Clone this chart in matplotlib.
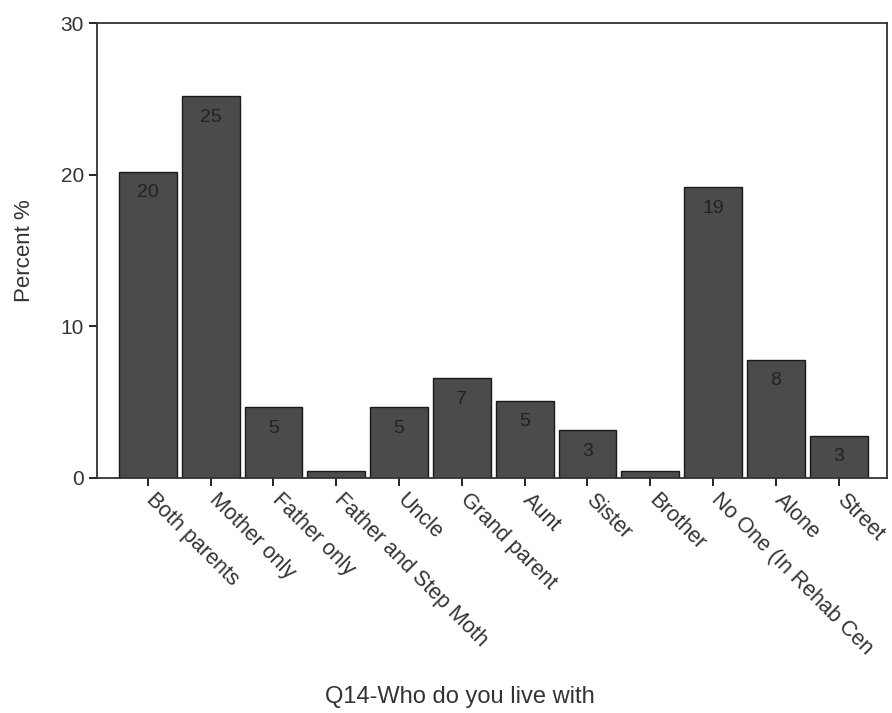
import numpy as np
import matplotlib
matplotlib.use("Agg")
import matplotlib.pyplot as plt
import matplotlib.transforms as mtransforms

# ==========================
# DATA
# ==========================

categories = ["Both parents", "Mother only", "Father only", "Father and Step Moth",
              "Uncle", "Grand parent", "Aunt", "Sister", "Brother",
              "No One (In Rehab Cen", "Alone", "Street"]
percent = [20.2, 25.2, 4.65, 0.45, 4.65, 6.6, 5.1, 3.15, 0.45, 19.2, 7.8, 2.8]
bar_labels = ["20", "25", "5", "", "5", "7", "5", "3", "", "19", "8", "3"]

plt.rcParams["font.family"] = ["Liberation Sans", "DejaVu Sans"]

# ==========================
# PLOT
# ==========================

fig = plt.figure(figsize=(8.92, 7.13), dpi=100)
ax = fig.add_axes([0.1087, 0.3296, 0.8857, 0.6381])

x = np.arange(len(categories))
ax.bar(x, percent, width=0.92, color="#4b4b4b", edgecolor="#1a1a1a", linewidth=1.0)

for xi, val, lab in zip(x, percent, bar_labels):
    if lab:
        ax.text(xi, val - 1.4, lab, ha="center", va="center",
                fontsize=14, color="#222222")

ax.set_xlim(-0.81, 11.77)
ax.set_ylim(0, 30)
ax.set_yticks([0, 10, 20, 30])
ax.set_xticks(x)
ax.set_xticklabels(categories, rotation=-45, ha="left", va="top",
                   rotation_mode="anchor", fontsize=15.5, color="#333333")
ax.tick_params(axis="y", labelsize=15, labelcolor="#333333", length=6, width=1.2)
ax.tick_params(axis="x", length=6, width=1.2, pad=5)

# shift the slanted labels a little to the right, like the original
offset = mtransforms.ScaledTranslation(0.09, 0.04, fig.dpi_scale_trans)
for lbl in ax.get_xticklabels():
    lbl.set_transform(lbl.get_transform() + offset)

for s in ax.spines.values():
    s.set_linewidth(1.3)
    s.set_color("#333333")

ax.set_ylabel("Percent %", fontsize=16, color="#333333", labelpad=18)
fig.text(460 / 892, 1 - 697 / 713, "Q14-Who do you live with", fontsize=17,
         color="#333333", ha="center", va="center")

fig.savefig("out.png", dpi=100)
